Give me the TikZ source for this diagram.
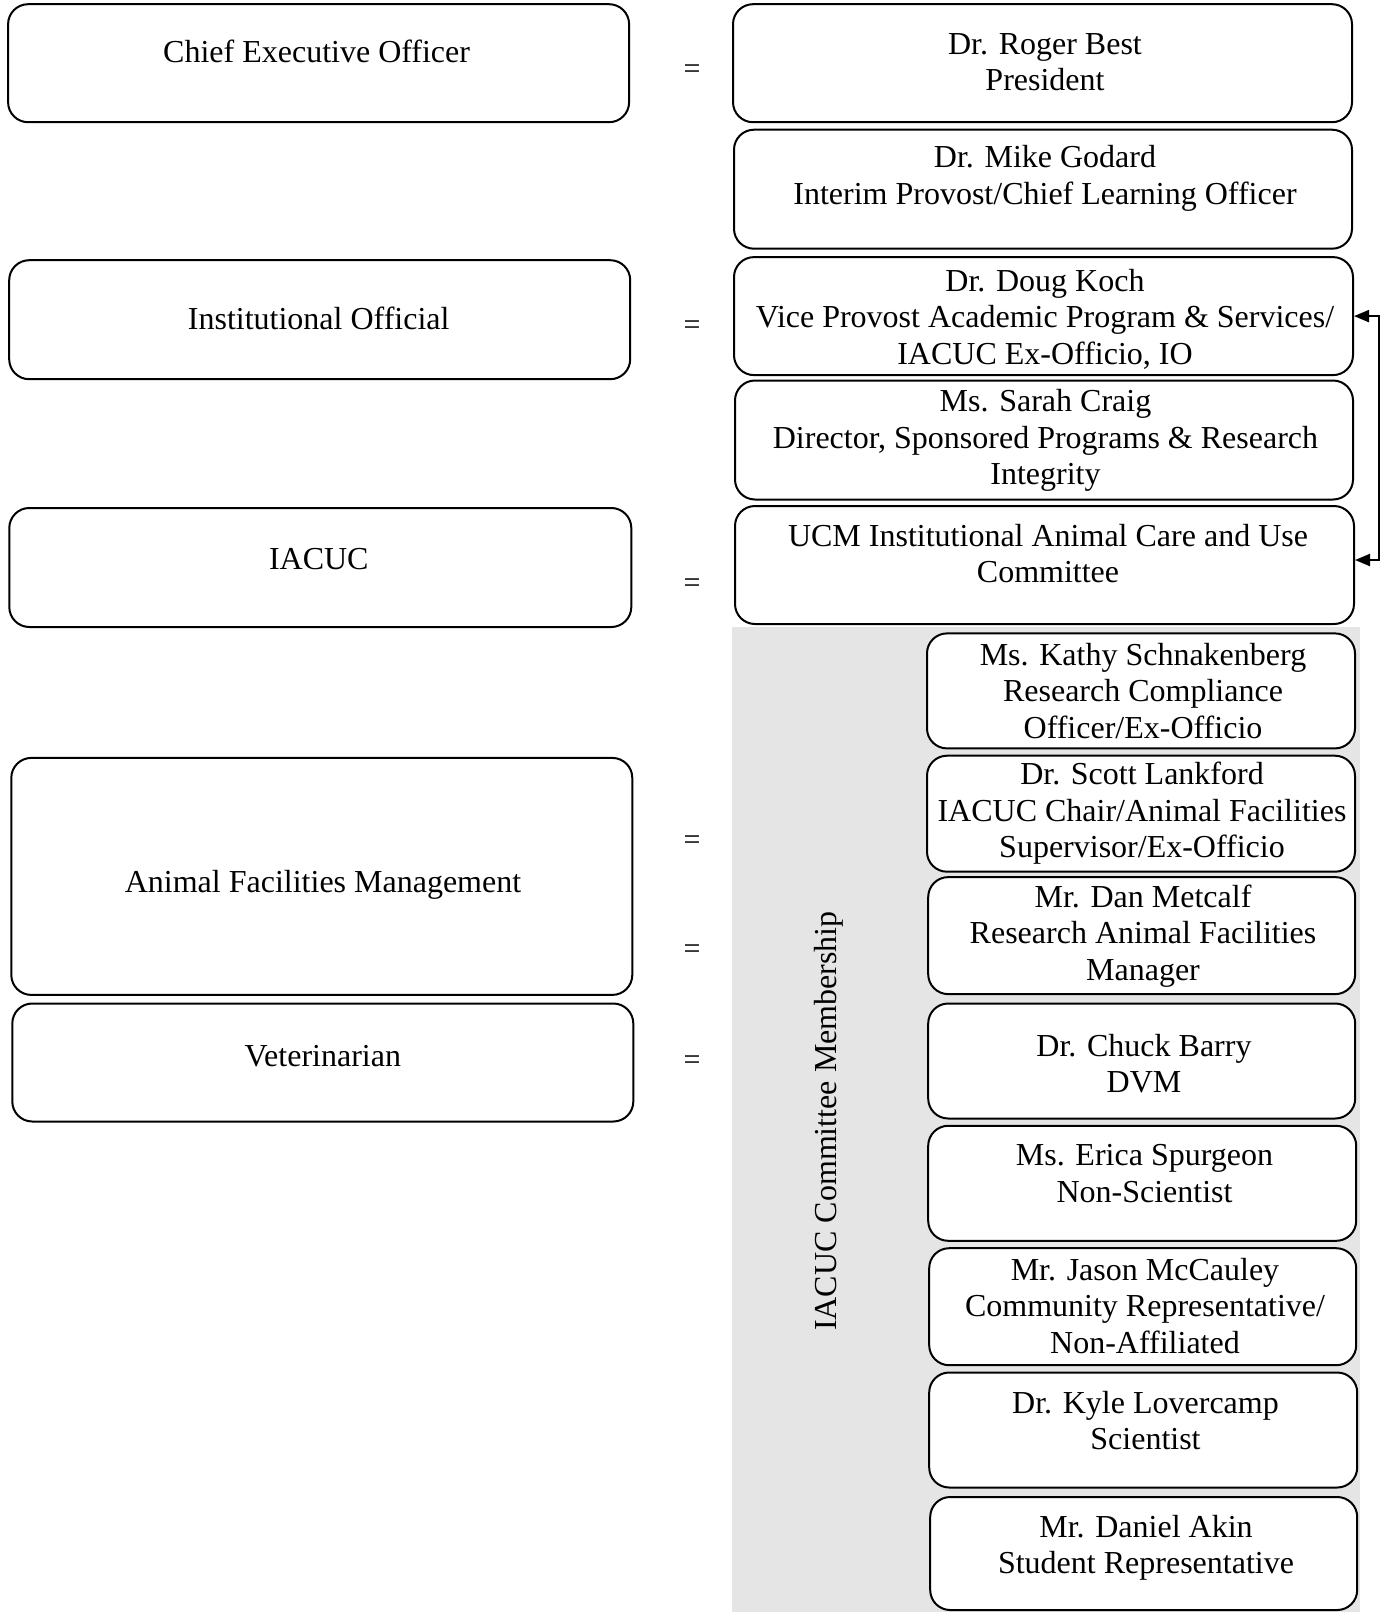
\documentclass[tikz,border=0pt]{standalone}
\usepackage{fontspec}
\setmainfont{Liberation Serif}
\usetikzlibrary{arrows.meta}
\begin{document}
\begin{tikzpicture}[x=1pt,y=-1pt,
  box/.style={draw=black, line width=2pt, rounded corners=20pt, fill=white, inner sep=0pt},
  txt/.style={align=center, inner sep=0pt, font=\fontsize{32}{36.6}\selectfont,
    execute at begin node=\strut, execute at end node=\strut},
  eq/.style={inner sep=0pt, font=\fontsize{30}{34}\selectfont},
  conn/.style={line width=2pt, {Triangle[length=15pt,width=12pt]}-{Triangle[length=15pt,width=12pt]}}]
\useasboundingbox (0,0) rectangle (1390,1612);
\fill[white] (0,0) rectangle (1390,1612);
% shaded membership band
\fill[black!10] (732,627) rectangle (1360,1612);
% left column
\node[box, minimum width=621pt, minimum height=118pt] (ceo) at (318.6,63.2) {};
\node[box, minimum width=621pt, minimum height=119pt] (io) at (319.7,319.7) {};
\node[box, minimum width=622pt, minimum height=119pt] (iacuc) at (320.3,567.5) {};
\node[box, minimum width=621pt, minimum height=237pt] (afm) at (321.8,876.4) {};
\node[box, minimum width=621pt, minimum height=118pt] (vet) at (322.8,1062.5) {};
\node[txt] (ceoT) at (316.6,55) {Chief Executive Officer};
\node[txt] (ioT) at (318.7,322.2) {Institutional Official};
\node[txt] (iacucT) at (318.8,562) {IACUC};
\node[txt] (afmT) at (323,885) {Animal Facilities Management};
\node[txt] (vetT) at (322.8,1059) {Veterinarian};
% equals
\node[eq] (e1) at (692,71.5) {=};
\node[eq] (e2) at (692,328) {=};
\node[eq] (e3) at (692,586) {=};
\node[eq] (e4) at (692,843) {=};
\node[eq] (e5) at (692,952) {=};
\node[eq] (e6) at (692,1063) {=};
% right top column
\node[box, minimum width=619pt, minimum height=118pt] (best) at (1042.5,63.2) {};
\node[box, minimum width=618pt, minimum height=119pt] (godard) at (1043,189.2) {};
\node[box, minimum width=619pt, minimum height=118pt] (koch) at (1043.5,316.1) {};
\node[box, minimum width=618pt, minimum height=119pt] (craig) at (1044,440) {};
\node[box, minimum width=619pt, minimum height=118pt] (ucm) at (1044.5,565) {};
\node[txt] (bestT) at (1045,67.6) {Dr. Roger Best\\President};
\node[txt] (godardT) at (1045,180.5) {Dr. Mike Godard\\Interim Provost/Chief Learning Officer};
\node[txt] (kochT) at (1045,322) {Dr. Doug Koch\\Vice Provost Academic Program \& Services/\\IACUC Ex-Officio, IO};
\node[txt] (craigT) at (1045.5,442.5) {Ms. Sarah Craig\\Director, Sponsored Programs \& Research\\Integrity};
\node[txt] (ucmT) at (1048,558.7) {UCM Institutional Animal Care and Use\\Committee};
% members
\node[box, minimum width=428pt, minimum height=115pt] (kathy) at (1141,690.9) {};
\node[box, minimum width=428pt, minimum height=116pt] (scott) at (1141,813.7) {};
\node[box, minimum width=427pt, minimum height=117pt] (dan) at (1141.7,935.6) {};
\node[box, minimum width=427pt, minimum height=115pt] (chuck) at (1141.7,1061) {};
\node[box, minimum width=428pt, minimum height=115pt] (erica) at (1142.2,1183.3) {};
\node[box, minimum width=427pt, minimum height=117pt] (jason) at (1142.7,1306.7) {};
\node[box, minimum width=428pt, minimum height=115pt] (kyle) at (1143.2,1430) {};
\node[box, minimum width=427pt, minimum height=113pt] (daniel) at (1143.7,1553.5) {};
\node[txt] (kathyT) at (1143,696) {Ms. Kathy Schnakenberg\\Research Compliance\\Officer/Ex-Officio};
\node[txt] (scottT) at (1142,815.3) {Dr. Scott Lankford\\IACUC Chair/Animal Facilities\\Supervisor/Ex-Officio};
\node[txt] (danT) at (1143,938.2) {Mr. Dan Metcalf\\Research Animal Facilities\\Manager};
\node[txt] (chuckT) at (1144,1068.7) {Dr. Chuck Barry\\DVM};
\node[txt] (ericaT) at (1144.5,1179) {Ms. Erica Spurgeon\\Non-Scientist};
\node[txt] (jasonT) at (1145,1311) {Mr. Jason McCauley\\Community Representative/\\Non-Affiliated};
\node[txt] (kyleT) at (1145.5,1425.7) {Dr. Kyle Lovercamp\\Scientist};
\node[txt] (danielT) at (1146,1549.7) {Mr. Daniel Akin\\Student Representative};
% vertical label
\node[txt, rotate=90] (memb) at (829,1121) {IACUC Committee Membership};
% connector
\draw[conn] (koch.east) -- ++(25,0) |- ([yshift=5pt]ucm.east);
\end{tikzpicture}
\end{document}
